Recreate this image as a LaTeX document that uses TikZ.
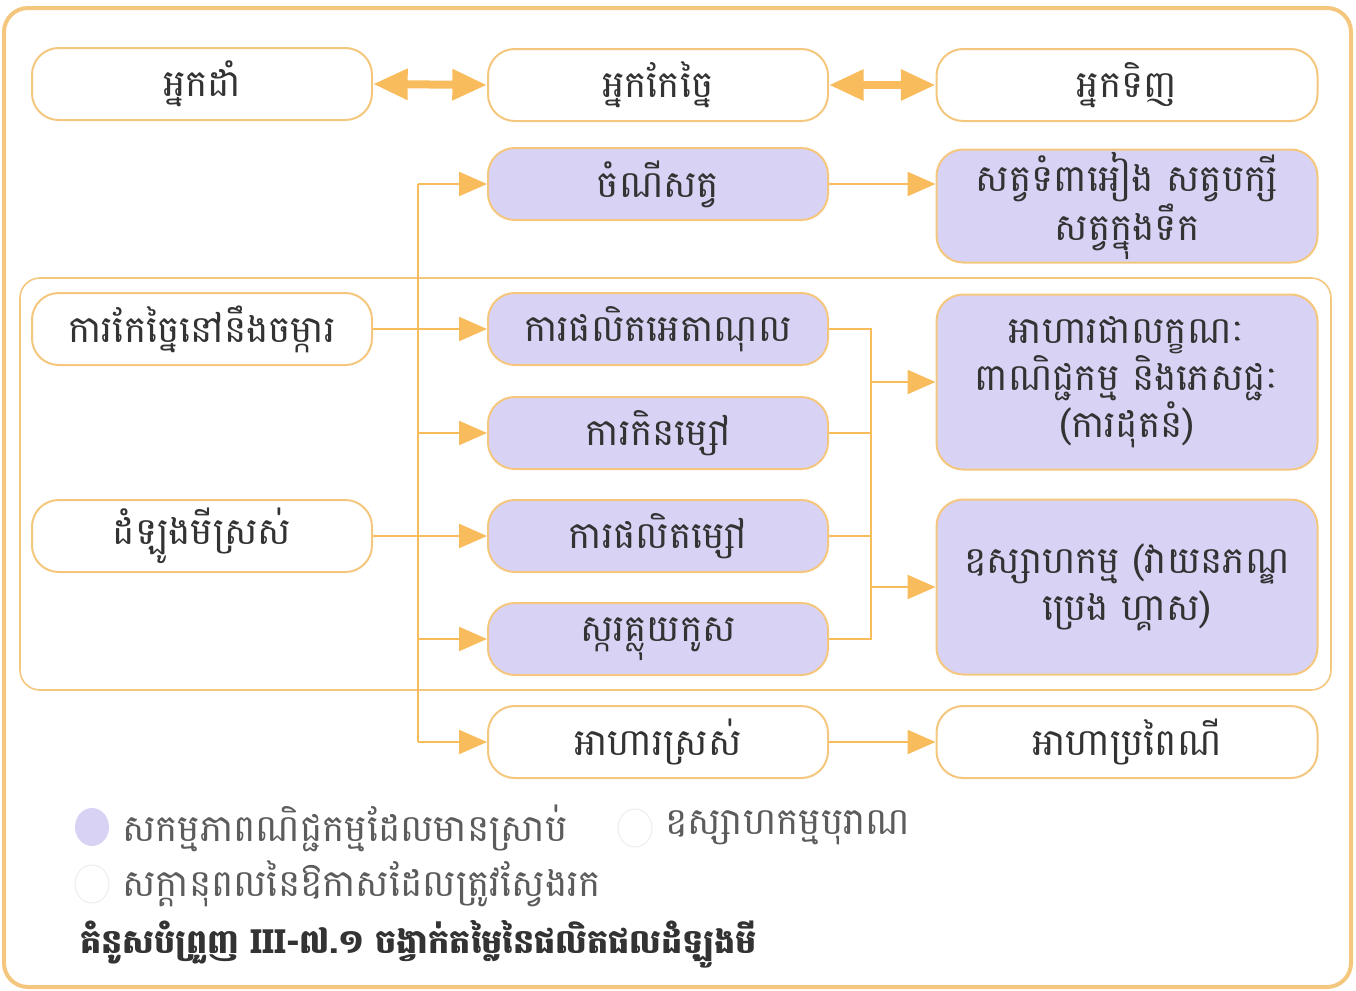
\documentclass[tikz,border=0pt]{standalone}
\usepackage{fontspec}
\newfontfamily\khmer[Script=Khmer]{Battambang}
\usetikzlibrary{arrows.meta}
\definecolor{bord}{HTML}{F5C77E}
\definecolor{arr}{HTML}{F8BC5C}
\definecolor{lav}{HTML}{D8D2F4}
\definecolor{txt}{HTML}{333333}
\definecolor{faint}{HTML}{EDEDED}
\begin{document}
\begin{tikzpicture}[x=0.75pt,y=-0.75pt,
  box/.style={draw=bord, line width=1.5pt, rounded corners=20pt, minimum width=255pt, minimum height=54pt,
    font=\khmer\fontsize{28}{35}\selectfont, text=txt, align=center, inner sep=0pt, fill=white},
  wbox/.style={box, minimum width=285.75pt},
  pbox/.style={box, fill=lav},
  pwbox/.style={wbox, fill=lav},
  conn/.style={draw=arr, line width=1.8pt},
  arrow/.style={conn, -{Triangle[length=21pt,width=18pt]}},
  dbl/.style={draw=arr, line width=6pt, {Triangle[length=26pt,width=22pt]}-{Triangle[length=26pt,width=22pt]}},
  legtext/.style={font=\khmer\fontsize{28}{32}\selectfont, text=txt!80, anchor=west, inner sep=0pt}
]
\useasboundingbox (0,0) rectangle (1356,990);
% frames
\draw[bord, line width=3pt, rounded corners=18pt] (4,8) rectangle (1351,987);
\draw[bord, line width=1.2pt, rounded corners=15pt] (20,278) rectangle (1331,690);

% top row
\node[box] (grower) at (202,84) {អ្នកដាំ};
\node[box] (processor) at (658,85) {អ្នកកែច្នៃ};
\node[wbox] (buyer) at (1127,85) {អ្នកទិញ};
\draw[dbl] (grower.east) -- (processor.west);
\draw[dbl] (processor.east) -- (buyer.west);

% left column
\node[box] (farm) at (202,329) {ការកែច្នៃនៅនឹងចម្ការ};
\node[box] (fresh) at (202,536) {ដំឡូងមីស្រស់};

% middle column
\node[pbox] (feed) at (658,184) {ចំណីសត្វ};
\node[pbox] (ethanol) at (658,329) {ការផលិតអេតាណុល};
\node[pbox] (mill) at (658,433) {ការកិនម្សៅ};
\node[pbox] (starch) at (658,536) {ការផលិតម្សៅ};
\node[pbox] (glucose) at (658,639) {ស្ករគ្លុយកូស};
\node[box] (freshfood) at (658,742) {អាហារស្រស់};

% right column
\node[pwbox, minimum height=84.75pt] (animals) at (1127,206) {សត្វទំពាអៀង សត្វបក្សី\\សត្វក្នុងទឹក};
\node[pwbox, minimum height=131.25pt] (food) at (1127,382) {អាហារជាលក្ខណៈ\\ពាណិជ្ជកម្ម និងភេសជ្ជៈ\\(ការដុតនំ)};
\node[pwbox, minimum height=131.25pt] (industry) at (1127,587) {ឧស្សាហកម្ម (វាយនភណ្ឌ\\ប្រេង ហ្គាស)};
\node[wbox] (trad) at (1127,742) {អាហាប្រពៃណី};

% left vertical bus
\coordinate (vtop) at (418,184);
\coordinate (vbot) at (418,742);
\draw[conn] (vtop) -- (vbot);
\draw[arrow] (vtop) -- (feed.west);
\draw[arrow] (farm.east) -- (ethanol.west);
\draw[arrow] (mill.west -| vtop) -- (mill.west);
\draw[arrow] (fresh.east) -- (starch.west);
\draw[arrow] (glucose.west -| vtop) -- (glucose.west);
\draw[arrow] (vbot) -- (freshfood.west);

% right bus
\coordinate (rtop) at (871,329);
\coordinate (rbot) at (871,639);
\draw[conn] (ethanol.east) -- (rtop) -- (rbot) -- (glucose.east);
\draw[conn] (mill.east) -- (mill.east -| rtop);
\draw[conn] (starch.east) -- (starch.east -| rtop);
\draw[arrow] (food.west -| rtop) -- (food.west);
\draw[arrow] (industry.west -| rtop) -- (industry.west);

\draw[arrow] (feed.east) -- (feed.east -| animals.west);
\draw[arrow] (freshfood.east) -- (trad.west);

% legend
\fill[lav] (92,827) ellipse [x radius=17, y radius=19];
\node[legtext] (l1) at (122,828) {សកម្មភាពណិជ្ជកម្មដែលមានស្រាប់};
\draw[faint, line width=0.8pt] (635,828) ellipse [x radius=17, y radius=19];
\node[legtext] (l2) at (665,828) {ឧស្សាហកម្មបុរាណ};
\draw[faint, line width=0.8pt] (92,884) ellipse [x radius=17, y radius=19];
\node[legtext] (l3) at (122,884) {សក្តានុពលនៃឱកាសដែលត្រូវស្វែងរក};

% caption
\node[font=\khmer\bfseries\fontsize{25}{30}\selectfont, text=txt, anchor=west, inner sep=0pt] (cap) at (80,944) {គំនូសបំព្រួញ III-៧.១ ចង្វាក់តម្លៃនៃផលិតផលដំឡូងមី};
\end{tikzpicture}
\end{document}
